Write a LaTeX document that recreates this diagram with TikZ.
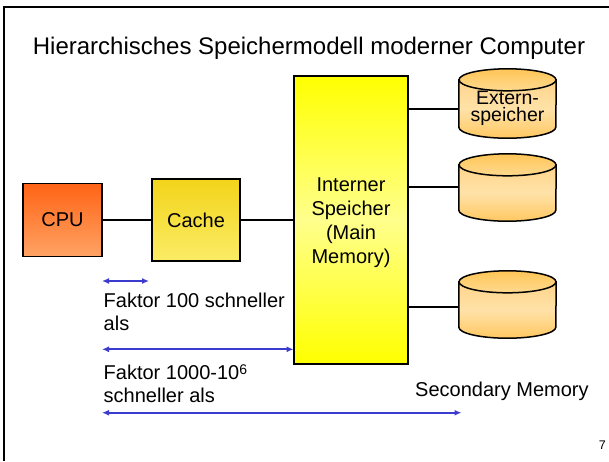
\documentclass[tikz,border=0pt]{standalone}
\usepackage{fontspec}
\setmainfont{Liberation Sans}
\usetikzlibrary{arrows.meta,calc,backgrounds}
\definecolor{cpuTop}{HTML}{FF6416}
\definecolor{cpuBot}{HTML}{FFA364}
\definecolor{cacheTop}{HTML}{F2D41A}
\definecolor{cacheBot}{HTML}{FBEC66}
\definecolor{memTop}{HTML}{FFFF00}
\definecolor{memMid}{HTML}{FFFF8C}
\definecolor{memBot}{HTML}{FFFF00}
\definecolor{cylA}{HTML}{FFD48A}
\definecolor{cylB}{HTML}{FFE2A8}
\definecolor{cylC}{HTML}{FFC862}
\definecolor{cylTopA}{HTML}{FFC557}
\definecolor{cylTopB}{HTML}{FFDA90}
\definecolor{arrowblue}{HTML}{3B3BCF}
\begin{document}
\begin{tikzpicture}[x=1pt,y=-1pt,
  box/.style={draw=black, line width=1.5pt, inner sep=0pt, font=\fontsize{20}{24}\selectfont},
  conn/.style={draw=black, line width=2pt},
  dim/.style={draw=arrowblue, line width=2.2pt, <->, >={Latex[length=7pt,width=6pt]}},
  txt/.style={inner sep=0pt, font=\fontsize{20}{24}\selectfont},
  cylnode/.style={minimum width=97pt, minimum height=#1, inner sep=0pt},
  cylbody/.style={draw=black, line width=1.5pt, top color=cylA, bottom color=cylC, middle color=cylB},
  cyltop/.style={draw=black, line width=1.5pt, top color=cylTopA, bottom color=cylTopB}
]
\useasboundingbox (0,0) rectangle (609,461);
% slide frame
\draw[line width=2.5pt] (4,461) -- (4,7) -- (609,7);

% title
\node[txt, font=\fontsize{24}{28}\selectfont, anchor=base] (title) at (309,54.4)
  {Hierarchisches Speichermodell moderner Computer};

% boxes
\node[box, top color=cpuTop, bottom color=cpuBot, minimum width=79pt, minimum height=73pt] (cpu) at (62.5,220) {CPU};
\node[box, top color=cacheTop, bottom color=cacheBot, minimum width=88pt, minimum height=82pt] (cache) at (196,220) {Cache};
\node[box, top color=memTop, bottom color=memBot, middle color=memMid, minimum width=114pt, minimum height=288pt] (mem) at (351,220) {};
\node[txt, anchor=north, align=center] (memtxt) at (351,178) {Interner\\Speicher\\(Main\\Memory)};

% cylinders (secondary storage)
\node[cylnode=69pt] (d1) at (507.5,103.5) {};
\node[cylnode=67pt] (d2) at (507.5,187.5) {};
\node[cylnode=67pt] (d3) at (507.5,304.5) {};
\begin{scope}[on background layer]
\foreach \n in {d1,d2,d3}{
  \path[cylbody] ($(\n.north west)+(0,11)$) -- ($(\n.south west)+(0,-11)$)
     arc[start angle=180, end angle=0, x radius=48.5, y radius=11]
     -- ($(\n.north east)+(0,11)$) -- cycle;
  \path[cyltop] ($(\n.north)+(0,11)$) ellipse[x radius=48.5, y radius=11];
}
\end{scope}
\node[txt, anchor=north, align=center, font=\fontsize{19.5}{17.5}\selectfont] (ext) at ($(d1.north)+(0,22)$) {Extern-\\speicher};

% connectors
\coordinate (d1in) at ($(d1.west)+(0,5.5)$);
\coordinate (d2in) at ($(d2.west)+(0,-0.8)$);
\coordinate (d3in) at ($(d3.west)+(0,2.8)$);
\draw[conn] (cpu.east) -- (cache.west);
\draw[conn] (cache.east) -- (mem.west);
\draw[conn] (mem.east |- d1in) -- (d1in);
\draw[conn] (mem.east |- d2in) -- (d2in);
\draw[conn] (mem.east |- d3in) -- (d3in);

% speed arrows
\coordinate (a1l) at (102,281);
\coordinate (a1r) at (149,281);
\coordinate (a2l) at (102,349.3);
\coordinate (a2r) at (293.5,349.3);
\coordinate (a3l) at (102,412.7);
\coordinate (a3r) at (461.5,412.7);
\draw[dim] (a1l) -- (a1r);
\draw[dim] (a2l) -- (a2r);
\draw[dim] (a3l) -- (a3r);

% labels
\node[txt, anchor=north west, align=left, font=\fontsize{20}{23.4}\selectfont] (f1) at (103.5,292.4)
  {Faktor 100 schneller\\als};
\node[txt, anchor=north west, align=left, font=\fontsize{20}{23.7}\selectfont] (f2) at (103.5,364.4)
  {Faktor 1000-10\raisebox{4.5pt}{\fontsize{14}{14}\selectfont 6}\\schneller als};
\node[txt, anchor=base west] (sec) at (415,396) {Secondary Memory};
\node[inner sep=0pt, font=\fontsize{12.5}{14}\selectfont, anchor=base east] (pg) at (606,449) {7};
\end{tikzpicture}
\end{document}
